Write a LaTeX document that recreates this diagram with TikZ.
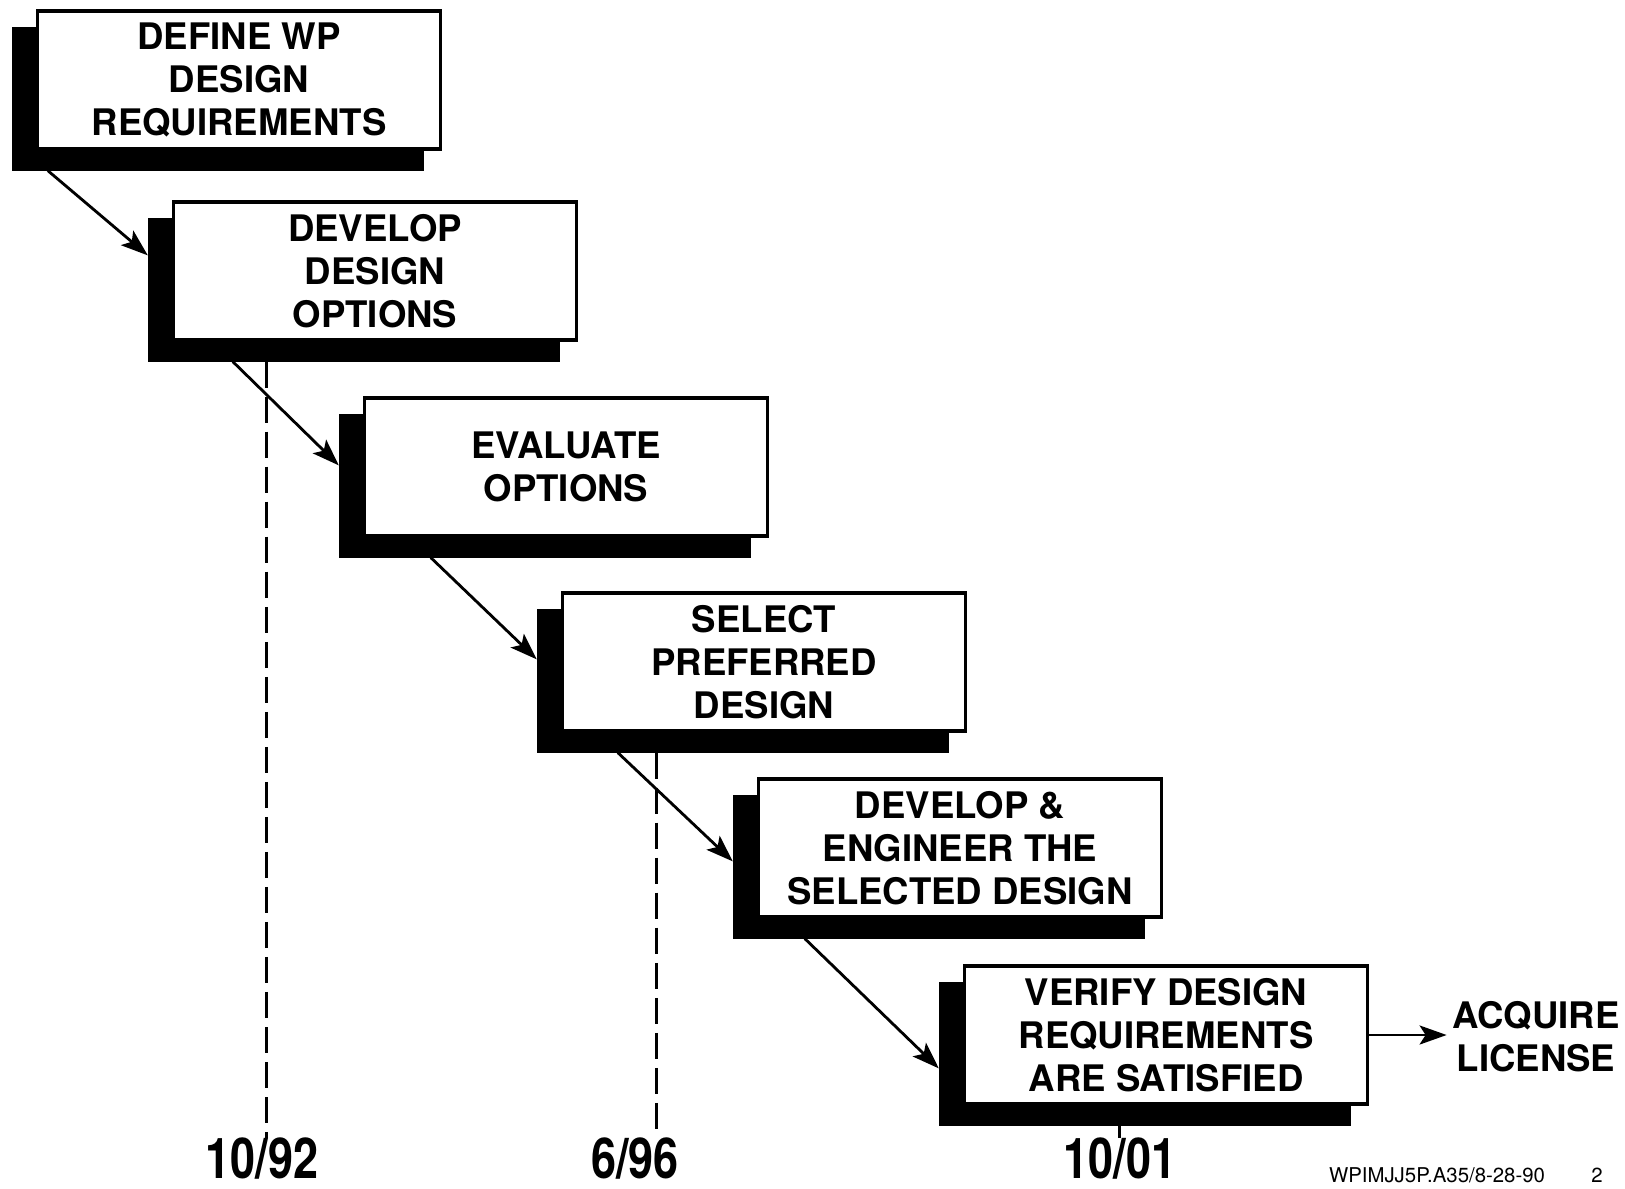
\documentclass[tikz,border=0pt]{standalone}
\usepackage{fontspec}
\setmainfont{TeX Gyre Heros}
\newfontfamily\datefont[FakeStretch=0.8]{TeX Gyre Heros}
\usetikzlibrary{arrows.meta,calc,backgrounds}

\tikzset{
  stepbox/.style={draw, line width=0.9pt, fill=white, minimum width=4.03cm, minimum height=1.38cm,
    inner sep=0pt, align=center, font=\bfseries\fontsize{10.4pt}{12.2pt}\selectfont},
  flow/.style={-{Stealth[length=2.7mm, width=1.9mm, inset=0.6mm]}, line width=0.8pt},
  dateline/.style={line width=0.8pt, dash pattern=on 0.26cm off 0.09cm},
  datelabel/.style={inner sep=0pt, font=\datefont\bfseries\fontsize{16pt}{18pt}\selectfont},
}

\begin{document}
\begin{tikzpicture}[x=0.01cm, y=-0.01cm]
        \useasboundingbox (0,0) rectangle (1625,1188);

        % Steps
        \node[stepbox] (b1) at (239,80) {DEFINE WP\\DESIGN\\REQUIREMENTS};
        \node[stepbox] (b2) at (375,271) {DEVELOP\\DESIGN\\OPTIONS};
        \node[stepbox] (b3) at (566,467) {EVALUATE\\OPTIONS};
        \node[stepbox] (b4) at (764,662) {SELECT\\PREFERRED\\DESIGN};
        \node[stepbox] (b5) at (960,848) {DEVELOP \&\\ENGINEER THE\\SELECTED DESIGN};
        \node[stepbox] (b6) at (1166,1035) {VERIFY DESIGN\\REQUIREMENTS\\ARE SATISFIED};
        \node[font=\bfseries\fontsize{10.4pt}{12.2pt}\selectfont, align=center, inner sep=0pt, inner xsep=0.05cm] (acq) at (1536,1037) {ACQUIRE\\LICENSE};

        % Shadows
        \begin{scope}[on background layer]
            \foreach \b in {b1,b2,b3,b4,b5,b6}
                \fill ($(\b.south west)+(-24,20)$) rectangle ($(\b.north east)+(-18,18)$);
        \end{scope}

        % Connections
        \draw[flow] ($(b1.south west)+(12,20)$) -- ($(b2.north west)+(-24,55)$);
        \draw[flow] ($(b2.south west)+(61,20)$) -- ($(b3.north west)+(-24,69)$);
        \draw[flow] ($(b3.south west)+(68,20)$) -- ($(b4.north west)+(-24,68)$);
        \draw[flow] ($(b4.south west)+(57,20)$) -- ($(b5.north west)+(-24,84)$);
        \draw[flow] ($(b5.south west)+(48,20)$) -- ($(b6.north west)+(-24,104)$);
        \draw[flow] (b6.east) -- (b6.east -| acq.west);

        % Dates
        \node[datelabel] (d1) at (262,1159) {10/92};
        \node[datelabel] (d2) at (635,1159) {6/96};
        \node[datelabel] (d3) at (1120,1159) {10/01};
        \coordinate (t1) at ($(b2.south west)+(95,20)$);
        \coordinate (t2) at ($(b4.south west)+(96,20)$);
        \coordinate (t3) at ($(b6.south west)+(157,20)$);
        \draw[dateline] (t1) -- (t1 |- d1.north);
        \draw[dateline] (t2) -- (t2 |- d2.north);
        \draw[dateline] (t3) -- (t3 |- d3.north);

        % Footer
        \node[font=\fontsize{5.8pt}{7pt}\selectfont, inner sep=0pt] (ref) at (1437,1175) {WPIMJJ5P.A35/8-28-90};
        \node[font=\fontsize{5.8pt}{7pt}\selectfont, inner sep=0pt] (pg) at (1597,1175) {2};
\end{tikzpicture}
\end{document}
